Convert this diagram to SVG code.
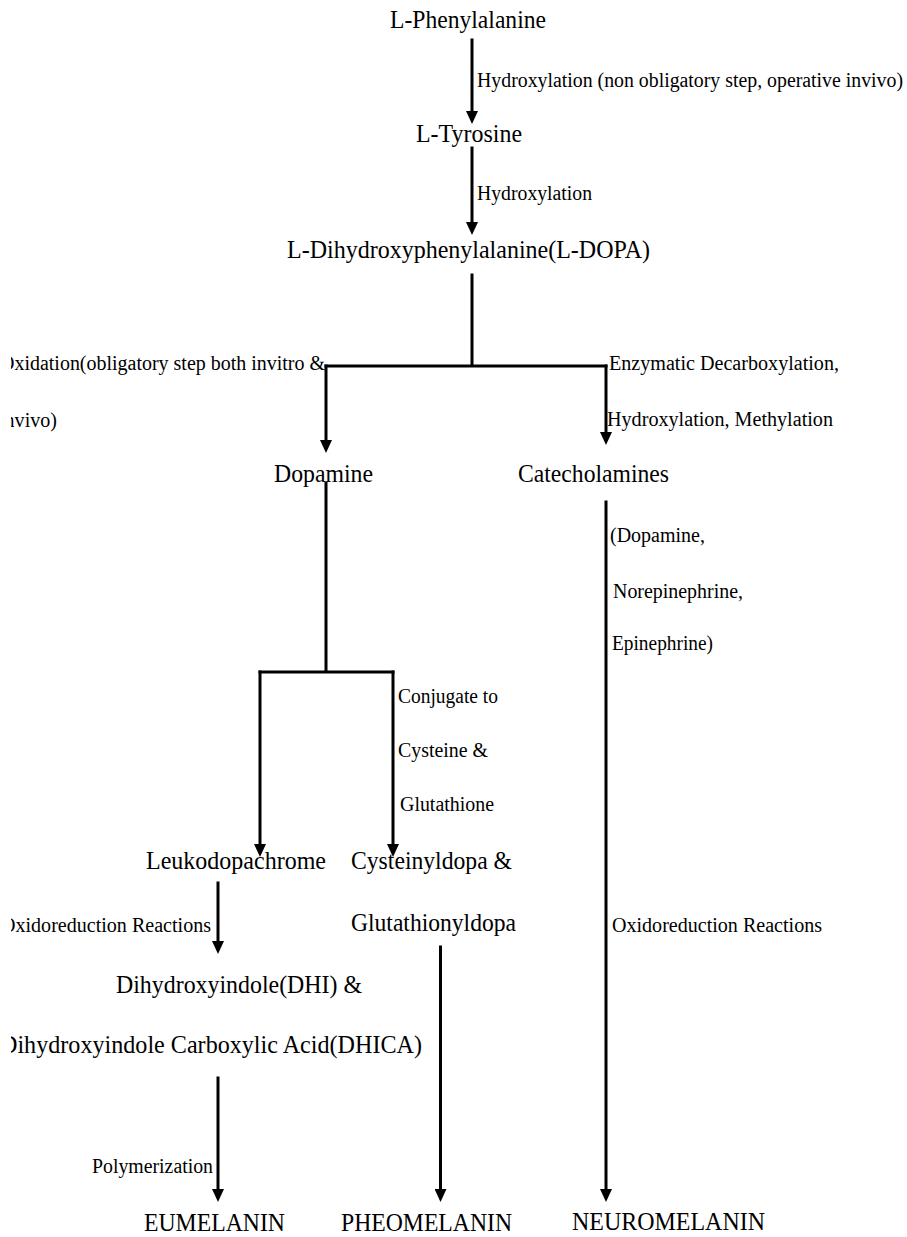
<svg xmlns="http://www.w3.org/2000/svg" width="907" height="1237" viewBox="0 0 907 1237">
<defs>
<style>
.m{font-family:'Liberation Serif','Times New Roman','DejaVu Serif',serif;font-size:25px;fill:#000}
.s{font-family:'Liberation Serif','Times New Roman','DejaVu Serif',serif;font-size:20px;fill:#000}
.c{fill:none;stroke:#000;stroke-width:3;stroke-linecap:square}
.a{marker-end:url(#ah)}
</style>
<marker id="ah" viewBox="0 0 13 12" refX="5" refY="6" markerWidth="13" markerHeight="12" markerUnits="userSpaceOnUse" orient="auto">
<path d="M0,0 L13,6 L0,12 z" fill="#000"/>
</marker>
<clipPath id="pg"><rect x="11" y="0" width="896" height="1237"/></clipPath>
</defs>
<rect width="907" height="1237" fill="#fff"/>
<g id="connectors">
<path class="c a" d="M472,40 V116"/>
<path class="c a" d="M472,148 V227"/>
<path class="c" d="M472,275 V366 M326,366 H606"/>
<path class="c a" d="M326,366 V445"/>
<path class="c a" d="M606,366 V437"/>
<path class="c" d="M326,483 V672 M260,672 H393"/>
<path class="c a" d="M260,672 V849"/>
<path class="c a" d="M393,672 V849"/>
<path class="c a" d="M218,883 V946"/>
<path class="c a" d="M218,1078 V1194"/>
<path class="c a" d="M440.5,947 V1194"/>
<path class="c a" d="M606,502 V1194"/>
</g>
<g id="phe"><text class="m" font-family="Liberation Serif, serif" x="390" y="28" textLength="156" lengthAdjust="spacingAndGlyphs">L-Phenylalanine</text></g>
<g id="lbl-hyd1"><text class="s" x="477" y="87" textLength="426" lengthAdjust="spacingAndGlyphs">Hydroxylation (non obligatory step, operative invivo)</text></g>
<g id="tyr"><text class="m" x="416" y="142" textLength="106" lengthAdjust="spacingAndGlyphs">L-Tyrosine</text></g>
<g id="lbl-hyd2"><text class="s" x="477" y="200" textLength="115" lengthAdjust="spacingAndGlyphs">Hydroxylation</text></g>
<g id="dopa"><text class="m" x="287" y="258" textLength="363" lengthAdjust="spacingAndGlyphs">L-Dihydroxyphenylalanine(L-DOPA)</text></g>
<g id="lbl-oxid" clip-path="url(#pg)">
<text class="s" x="0" y="369.5" textLength="325" lengthAdjust="spacingAndGlyphs">Oxidation(obligatory step both invitro &amp;</text>
<text class="s" x="-1" y="427" textLength="58" lengthAdjust="spacingAndGlyphs">invivo)</text>
</g>
<g id="lbl-enz">
<text class="s" x="609" y="370" textLength="230" lengthAdjust="spacingAndGlyphs">Enzymatic Decarboxylation,</text>
<text class="s" x="607" y="426" textLength="226" lengthAdjust="spacingAndGlyphs">Hydroxylation, Methylation</text>
</g>
<g id="dopamine"><text class="m" x="274" y="482" textLength="99" lengthAdjust="spacingAndGlyphs">Dopamine</text></g>
<g id="catechol"><text class="m" x="518" y="482" textLength="151" lengthAdjust="spacingAndGlyphs">Catecholamines</text></g>
<g id="lbl-cat">
<text class="s" x="610" y="542" textLength="95" lengthAdjust="spacingAndGlyphs">(Dopamine,</text>
<text class="s" x="613" y="598" textLength="130" lengthAdjust="spacingAndGlyphs">Norepinephrine,</text>
<text class="s" x="612" y="650" textLength="101" lengthAdjust="spacingAndGlyphs">Epinephrine)</text>
</g>
<g id="lbl-conj">
<text class="s" x="398" y="703" textLength="100" lengthAdjust="spacingAndGlyphs">Conjugate to</text>
<text class="s" x="398" y="757" textLength="90" lengthAdjust="spacingAndGlyphs">Cysteine &amp;</text>
<text class="s" x="400" y="811" textLength="94" lengthAdjust="spacingAndGlyphs">Glutathione</text>
</g>
<g id="leuko"><text class="m" x="146" y="869" textLength="180" lengthAdjust="spacingAndGlyphs">Leukodopachrome</text></g>
<g id="cysteinyl">
<text class="m" x="351" y="869" textLength="161" lengthAdjust="spacingAndGlyphs">Cysteinyldopa &amp;</text>
<text class="m" x="351" y="931" textLength="165" lengthAdjust="spacingAndGlyphs">Glutathionyldopa</text>
</g>
<g id="lbl-oxred1" clip-path="url(#pg)"><text class="s" x="1" y="932" textLength="210" lengthAdjust="spacingAndGlyphs">Oxidoreduction Reactions</text></g>
<g id="lbl-oxred2"><text class="s" x="612" y="932" textLength="210" lengthAdjust="spacingAndGlyphs">Oxidoreduction Reactions</text></g>
<g id="dhi" clip-path="url(#pg)">
<text class="m" x="116" y="993" textLength="246" lengthAdjust="spacingAndGlyphs">Dihydroxyindole(DHI) &amp;</text>
<text class="m" x="0" y="1053" textLength="422" lengthAdjust="spacingAndGlyphs">Dihydroxyindole Carboxylic Acid(DHICA)</text>
</g>
<g id="lbl-poly"><text class="s" x="92" y="1173" textLength="121" lengthAdjust="spacingAndGlyphs">Polymerization</text></g>
<g id="eumelanin"><text class="m" x="144" y="1231" textLength="141" lengthAdjust="spacingAndGlyphs">EUMELANIN</text></g>
<g id="pheomelanin"><text class="m" x="341" y="1231" textLength="171" lengthAdjust="spacingAndGlyphs">PHEOMELANIN</text></g>
<g id="neuromelanin"><text class="m" x="572" y="1230" textLength="193" lengthAdjust="spacingAndGlyphs">NEUROMELANIN</text></g>
</svg>
